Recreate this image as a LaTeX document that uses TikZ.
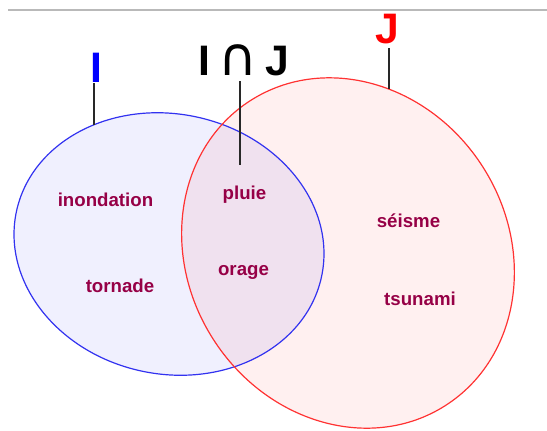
\documentclass[tikz,border=0pt]{standalone}
\usepackage{fontspec}
\setmainfont{Liberation Sans}
\newfontfamily\dejavu{DejaVu Sans}
\definecolor{itemcol}{RGB}{150,0,70}
\definecolor{setIline}{RGB}{50,50,240}
\definecolor{setJline}{RGB}{255,50,50}
\definecolor{setIfill}{RGB}{240,240,254}
\definecolor{leadcol}{RGB}{40,40,40}
\definecolor{topcol}{RGB}{185,185,185}
\begin{document}
\begin{tikzpicture}[x=0.75pt,y=-0.75pt,
  item/.style={font=\fontsize{14}{16}\selectfont\bfseries, text=itemcol, anchor=base, inner sep=0pt},
  biglabel/.style={font=\fontsize{32}{34}\selectfont\bfseries, anchor=base, inner sep=0pt},
  leader/.style={draw=leadcol, line width=1.3pt},
  topline/.style={draw=topcol, line width=1.4pt}]
\useasboundingbox (0,0) rectangle (547,430);
\draw[topline] (8,10) -- (547,10);
% fills
\fill[setIfill, shift={(169,244)}, rotate=-12] (0,0) ellipse [x radius=117pt, y radius=97.5pt];
\fill[red, fill opacity=0.06, shift={(348,253)}, rotate=32.6] (0,0) ellipse [x radius=120pt, y radius=135.75pt];
% borders
\draw[setIline, line width=0.9pt, shift={(169,244)}, rotate=-12] (0,0) ellipse [x radius=117pt, y radius=97.5pt];
\draw[setJline, line width=0.9pt, shift={(348,253)}, rotate=32.6] (0,0) ellipse [x radius=120pt, y radius=135.75pt];
% labels
\node[biglabel, text=blue] (labI) at (96,82) {I};
\node[biglabel, text=black] (labIJ) at (243.5,75) {I\hspace{6pt}{\dejavu\mdseries\fontsize{40}{42}\selectfont ∩}\hspace{6pt}J};
\node[biglabel, text=red] (labJ) at (387,43) {J};
\coordinate (topI) at (94,83);
\coordinate (endI) at (94,125);
\coordinate (topIJ) at (240,81);
\coordinate (endIJ) at (240,165);
\coordinate (topJ) at (389,48);
\coordinate (endJ) at (389,89);
\draw[leader] (topI) -- (endI);
\draw[leader] (topIJ) -- (endIJ);
\draw[leader] (topJ) -- (endJ);
% items
\node[item] (inond) at (105.5,206.5) {inondation};
\node[item] (torn) at (120,292) {tornade};
\node[item] (pluie) at (244.5,199) {pluie};
\node[item] (orage) at (243.5,275) {orage};
\node[item] (seisme) at (408.5,227) {séisme};
\node[item] (tsun) at (420,305) {tsunami};
\end{tikzpicture}
\end{document}
